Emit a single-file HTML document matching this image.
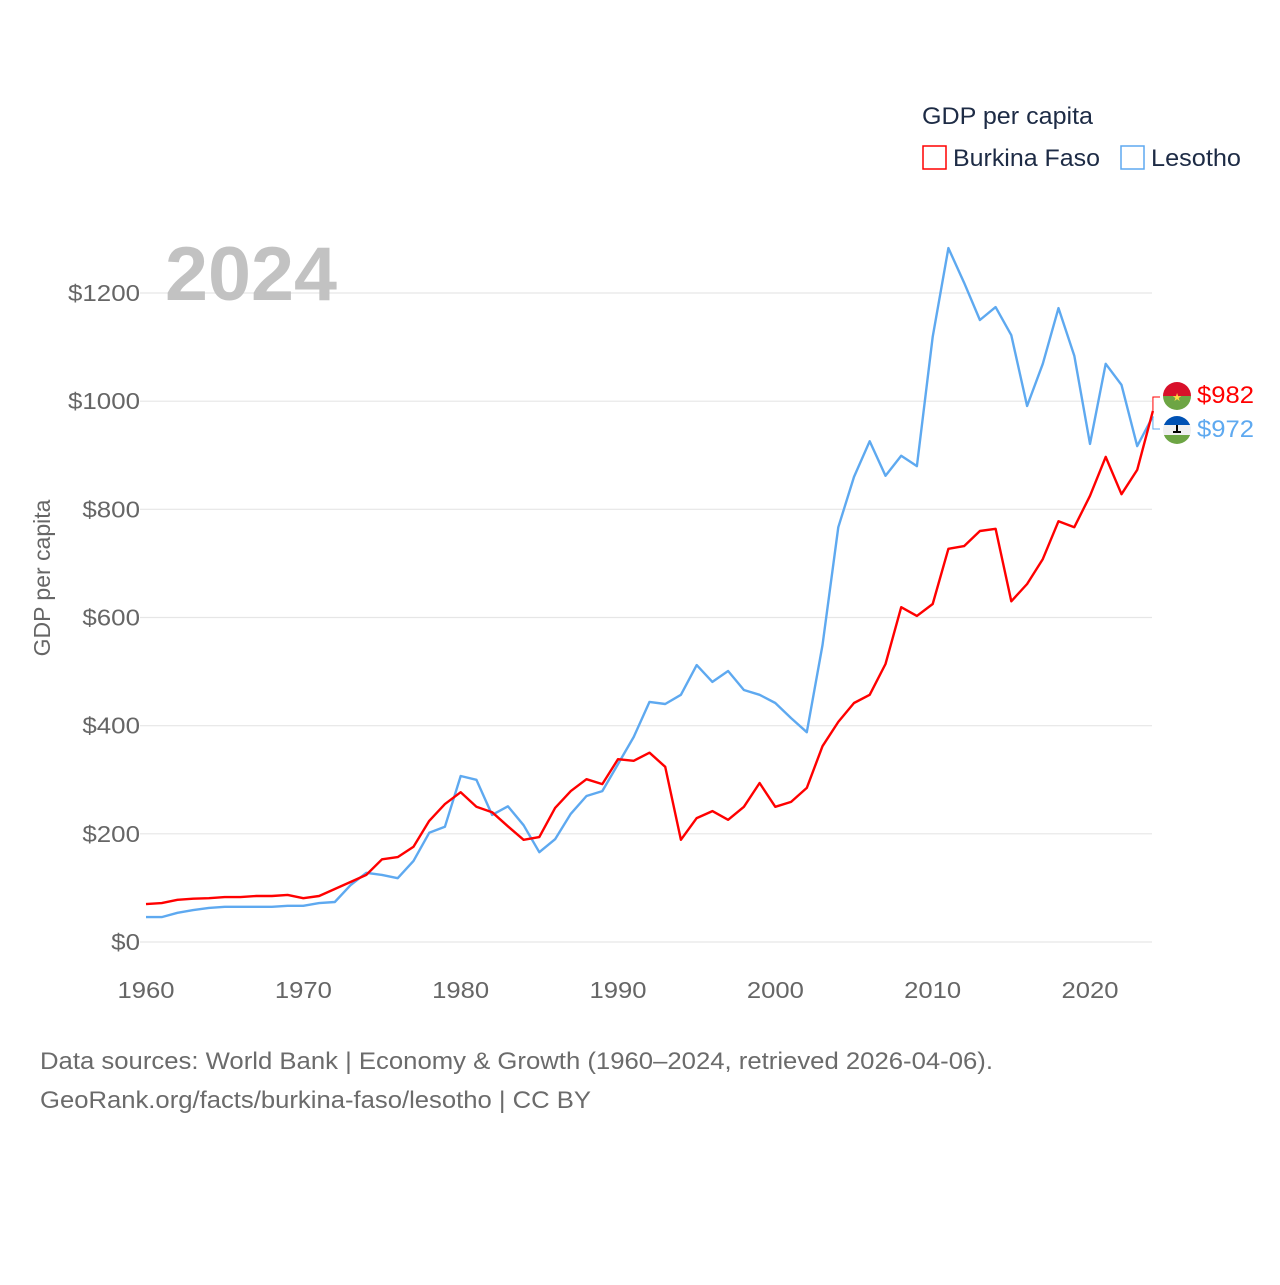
<!DOCTYPE html>
<html><head><meta charset="utf-8"><style>
body{margin:0;background:#fff;}
svg text{font-family:"Liberation Sans",sans-serif;}
</style></head><body>
<svg width="1280" height="1280" viewBox="0 0 1280 1280" xmlns="http://www.w3.org/2000/svg">
<g id="grid"></g>
<g id="yticks"></g>
<g id="xticks"></g>
<text x="165" y="300" font-size="76" font-weight="bold" fill="#c2c2c2" textLength="172" lengthAdjust="spacingAndGlyphs">2024</text>
<text x="50" y="578" font-size="23" fill="#666" text-anchor="middle" transform="rotate(-90 50 578)">GDP per capita</text>
<g id="series"></g>
<g>
<text x="922" y="124" font-size="24" fill="#1d2b45" textLength="171" lengthAdjust="spacingAndGlyphs">GDP per capita</text>
<g><rect x="923" y="146" width="23" height="23" fill="none" stroke="#ff0000" stroke-width="1.5"/><text x="953" y="166" font-size="24" fill="#1d2b45" textLength="147" lengthAdjust="spacingAndGlyphs">Burkina Faso</text></g>
<g><rect x="1121" y="146" width="23" height="23" fill="none" stroke="#5ea9f0" stroke-width="1.5"/><text x="1151" y="166" font-size="24" fill="#1d2b45" textLength="90" lengthAdjust="spacingAndGlyphs">Lesotho</text></g>
</g>
<g>
<clipPath id="c1"><circle cx="1177" cy="396" r="14"/></clipPath>
<g clip-path="url(#c1)"><rect x="1163" y="382" width="28" height="14" fill="#d8102a"/><rect x="1163" y="396" width="28" height="14" fill="#6da544"/></g>
<text x="1177" y="401" font-size="11" fill="#ffda44" text-anchor="middle">★</text>
</g>
<g>
<clipPath id="c2"><circle cx="1177" cy="430" r="14"/></clipPath>
<g clip-path="url(#c2)"><rect x="1163" y="416" width="28" height="9" fill="#0052b4"/><rect x="1163" y="425" width="28" height="10" fill="#f0f0f0"/><rect x="1163" y="435" width="28" height="9" fill="#6da544"/></g>
<rect x="1176" y="425" width="2" height="6" fill="#000"/><rect x="1173" y="431" width="8" height="2" fill="#000"/>
</g>
<text x="1197" y="403" font-size="24" fill="#ff0000" textLength="57" lengthAdjust="spacingAndGlyphs">$982</text>
<text x="1197" y="437" font-size="24" fill="#5ea9f0" textLength="57" lengthAdjust="spacingAndGlyphs">$972</text>
<text x="40" y="1069" font-size="24" fill="#6b6b6b" textLength="953" lengthAdjust="spacingAndGlyphs">Data sources: World Bank | Economy &amp; Growth (1960–2024, retrieved 2026-04-06).</text>
<text x="40" y="1108" font-size="24" fill="#6b6b6b" textLength="551" lengthAdjust="spacingAndGlyphs">GeoRank.org/facts/burkina-faso/lesotho | CC BY</text>
</svg>
<script>
const startYear = 1960;
const yTicks = [0,200,400,600,800,1000,1200];
const xTicks = [1960,1970,1980,1990,2000,2010,2020];
const burkina = [70,72,78,80,81,83,83,85,85,87,81,85,98,111,124,153,157,176,224,255,277,250,240,214,189,194,248,279,301,292,338,335,350,324,189,229,242,226,250,294,250,259,285,362,407,442,457,514,619,603,625,727,732,760,764,630,662,708,778,767,825,897,828,873,982];
const lesotho = [46,46,54,59,63,65,65,65,65,67,67,72,74,105,128,124,118,150,202,213,307,300,235,251,216,166,190,237,270,279,329,379,444,440,457,512,481,501,466,457,442,414,388,549,767,860,926,862,899,880,1119,1283,1219,1150,1174,1122,991,1069,1172,1084,921,1069,1030,917,972];
const NS="http://www.w3.org/2000/svg";
function X(yr){return 146+(yr-1960)*944/60;}
function Y(v){return 942-v*649/1200;}
function mk(tag,attrs,parent,txt){const e=document.createElementNS(NS,tag);for(const k in attrs)e.setAttribute(k,attrs[k]);if(txt!==undefined)e.textContent=txt;parent.appendChild(e);return e;}
const grid=document.getElementById('grid'),yt=document.getElementById('yticks'),xt=document.getElementById('xticks'),ser=document.getElementById('series');
yTicks.forEach(v=>{
  const l=mk('line',{x1:140,x2:1152,y1:Y(v),y2:Y(v),stroke:'#e6e6e6','stroke-width':1.2},grid);
  
  
  const s='$'+v;
  const t=mk('text',{x:140,y:Y(v)+8,'font-size':23,fill:'#666','text-anchor':'end',textLength:s.length*14.4,lengthAdjust:'spacingAndGlyphs'},yt,s);
  
  
});
xTicks.forEach(v=>{
  const t=mk('text',{x:X(v),y:998,'font-size':23,fill:'#666','text-anchor':'middle',textLength:57,lengthAdjust:'spacingAndGlyphs'},xt,String(v));
  
  
});
function line(data,color,name){
  const d=data.map((v,i)=>(i?'L':'M')+X(startYear+i).toFixed(1)+' '+Y(v).toFixed(1)).join(' ');
  const p=mk('path',{d:d,fill:'none',stroke:color,'stroke-width':2.4,'stroke-linejoin':'round'},ser);
  
  
}
line(lesotho,'#5ea9f0','line-lesotho');
line(burkina,'#ff0000','line-burkina-faso');
const ex=X(startYear+burkina.length-1);
const c1=mk('path',{d:`M${ex} ${Y(burkina[burkina.length-1])} V397 H1160`,fill:'none',stroke:'#ff0000','stroke-width':1},ser);


const c2=mk('path',{d:`M${ex} ${Y(lesotho[lesotho.length-1])} V429 H1160`,fill:'none',stroke:'#5ea9f0','stroke-width':1},ser);


</script>
</body></html>
